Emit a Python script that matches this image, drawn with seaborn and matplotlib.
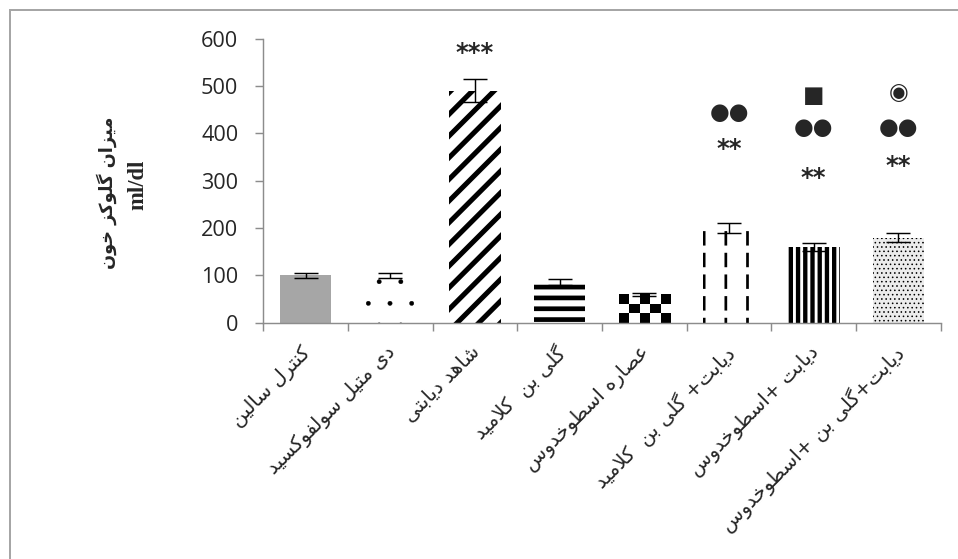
import numpy as np
import pandas as pd
import matplotlib
matplotlib.use('Agg')
import matplotlib.pyplot as plt
import matplotlib.patches as mpatches
import matplotlib.transforms as mtransforms
import seaborn as sns

# data
groups = ['کنترل سالین', 'دی متیل سولفوکسید', 'شاهد دیابتی', 'گلی بن  کلامید',
          'عصاره اسطوخدوس', 'دیابت+ گلی بن  کلامید', 'دیابت +اسطوخدوس',
          'دیابت+گلی بن +اسطوخدوس']
glucose = [100, 100, 490, 86, 60, 200, 160, 180]
glucose_err = [5, 6, 24, 7, 3, 10, 8, 9]

star_idx = [2, 5, 6, 7]
star_txt = ['***', '**', '**', '**']
star_y = [570, 368, 305, 332]
dot_idx = [5, 6, 7]
dot_y = [444, 412, 412]
sym_idx = [6, 7]
sym_txt = ['■', '◉']
sym_y = [480, 486]

y_label = 'میزان گلوکز خون'
y_unit = 'ml/dl'


# matplotlib has no arabic shaping, so pick the presentation forms by hand
# (isolated, final, initial, medial)
FORMS = {
    'ا': ('\uFE8D', '\uFE8E', None, None),
    'ب': ('\uFE8F', '\uFE90', '\uFE91', '\uFE92'),
    'ت': ('\uFE95', '\uFE96', '\uFE97', '\uFE98'),
    'خ': ('\uFEA5', '\uFEA6', '\uFEA7', '\uFEA8'),
    'د': ('\uFEA9', '\uFEAA', None, None),
    'ر': ('\uFEAD', '\uFEAE', None, None),
    'ز': ('\uFEAF', '\uFEB0', None, None),
    'س': ('\uFEB1', '\uFEB2', '\uFEB3', '\uFEB4'),
    'ش': ('\uFEB5', '\uFEB6', '\uFEB7', '\uFEB8'),
    'ص': ('\uFEB9', '\uFEBA', '\uFEBB', '\uFEBC'),
    'ط': ('\uFEC1', '\uFEC2', '\uFEC3', '\uFEC4'),
    'ع': ('\uFEC9', '\uFECA', '\uFECB', '\uFECC'),
    'ف': ('\uFED1', '\uFED2', '\uFED3', '\uFED4'),
    'ل': ('\uFEDD', '\uFEDE', '\uFEDF', '\uFEE0'),
    'م': ('\uFEE1', '\uFEE2', '\uFEE3', '\uFEE4'),
    'ن': ('\uFEE5', '\uFEE6', '\uFEE7', '\uFEE8'),
    'ه': ('\uFEE9', '\uFEEA', '\uFEEB', '\uFEEC'),
    'و': ('\uFEED', '\uFEEE', None, None),
    'ک': ('\uFB8E', '\uFB8F', '\uFB90', '\uFB91'),
    'گ': ('\uFB92', '\uFB93', '\uFB94', '\uFB95'),
    'ی': ('\uFBFC', '\uFBFD', '\uFBFE', '\uFBFF'),
    'لا': ('\uFEFB', '\uFEFC', None, None),
}


def shape(text):
    toks = []
    i = 0
    while i < len(text):
        if text[i:i + 2] == 'لا':
            toks.append('لا')
            i += 2
        else:
            toks.append(text[i])
            i += 1
    out = []
    for k, t in enumerate(toks):
        if t not in FORMS:
            out.append(t)
            continue
        prev = toks[k - 1] if k > 0 else None
        nxt = toks[k + 1] if k + 1 < len(toks) else None
        j_prev = prev in FORMS and FORMS[prev][2] is not None
        j_next = FORMS[t][2] is not None and nxt in FORMS
        f = FORMS[t]
        if j_prev and j_next:
            out.append(f[3])
        elif j_prev:
            out.append(f[1])
        elif j_next:
            out.append(f[2])
        else:
            out.append(f[0])
    return ''.join(reversed(out))


def hatch_width(artist, lw):
    # hatch line width is only read from rcParams when the patch is drawn
    orig = artist.draw

    def draw(renderer):
        with plt.rc_context({'hatch.linewidth': lw}):
            orig(renderer)
    artist.draw = draw
    if hasattr(artist, '_hatch_linewidth'):
        artist._hatch_linewidth = lw


sns.set_style('white')
plt.rcParams['font.family'] = ['Open Sans', 'DejaVu Sans']

df = pd.DataFrame({'group': groups, 'glucose': glucose})

fig = plt.figure(figsize=(958 / 130, 559 / 130), dpi=130)
ax = fig.add_axes([0.2748, 0.4227, 0.7072, 0.5081])

sns.barplot(data=df, x='group', y='glucose', order=groups, color='white',
            errorbar=None, width=0.61, saturation=1, ax=ax, zorder=2)

# fills / hatches per bar
styles = [
    dict(fc='#a6a6a6', hatch=None, hlw=1.0),
    dict(fc='white', hatch='.', hlw=0.2),
    dict(fc='white', hatch='//', hlw=2.8),
    dict(fc='white', hatch='--', hlw=2.6),
    dict(fc='white', hatch=None, hlw=1.0),
    dict(fc='white', hatch='|', hlw=1.5),
    dict(fc='white', hatch='|||', hlw=2.4),
    dict(fc='#ececec', hatch='.....', hlw=0.45),
]
bars = ax.patches[:len(groups)]
for b, st in zip(bars, styles):
    b.set_facecolor(st['fc'])
    b.set_edgecolor('black')
    b.set_linewidth(0)
    b.set_hatch(st['hatch'])
    hatch_width(b, st['hlw'])

# dashed look for the vertical-line bar: white bands over it
b6 = bars[5]
over = mpatches.Rectangle(b6.get_xy(), b6.get_width(), b6.get_height(),
                          facecolor='none', edgecolor='white', lw=0,
                          hatch='-', zorder=2.5)
hatch_width(over, 4.0)
ax.add_patch(over)

# checkerboard bar
b5 = bars[4]
x0, y0 = b5.get_xy()
w, h = b5.get_width(), b5.get_height()
checker = (np.indices((3, 5)).sum(axis=0) % 2 == 0).astype(float)
im = ax.imshow(checker, cmap='gray_r', vmin=0, vmax=1, interpolation='nearest',
               extent=(x0, x0 + w, y0, y0 + h), origin='upper', aspect='auto',
               zorder=2.2)
im.set_clip_path(b5)

ax.errorbar(np.arange(len(groups)), glucose, yerr=glucose_err, fmt='none',
            ecolor='black', elinewidth=0.8, capsize=6.5, capthick=0.8, zorder=5)

# significance marks
for i, t, y in zip(star_idx, star_txt, star_y):
    ax.text(i, y, t, ha='center', va='center', fontsize=13.5, fontweight='bold',
            family=['DejaVu Sans'], zorder=6)
for i, y in zip(dot_idx, dot_y):
    ax.text(i, y, '●●', ha='center', va='center', fontsize=12.5,
            family=['DejaVu Sans'], zorder=6)
for i, t, y in zip(sym_idx, sym_txt, sym_y):
    ax.text(i, y, t, ha='center', va='center', fontsize=12.5,
            family=['DejaVu Sans'], zorder=6)

# axes look
ax.set_xlim(-0.5, len(groups) - 0.5)
ax.set_ylim(0, 600)
ax.set_yticks(range(0, 601, 100))
ax.set_xticks(np.arange(len(groups)))
ax.set_xticks(np.arange(len(groups) + 1) - 0.5, minor=True)
ax.set_xticklabels([shape(g) for g in groups], rotation=45, ha='right',
                   rotation_mode='anchor', fontsize=11, family=['DejaVu Sans'])
ax.tick_params(axis='x', which='major', length=0, pad=7)
ax.tick_params(axis='x', which='minor', length=4.4, width=0.8, color='#8c8c8c',
               direction='out', bottom=True)
ax.tick_params(axis='y', length=4.4, width=0.8, color='#8c8c8c', direction='out',
               pad=9.5, labelsize=12, left=True)
shift = mtransforms.ScaledTranslation(-5 / 130, -7 / 130, fig.dpi_scale_trans)
for lab in ax.get_xticklabels():
    lab.set_transform(lab.get_transform() + shift)
for s in ['top', 'right']:
    ax.spines[s].set_visible(False)
for s in ['left', 'bottom']:
    ax.spines[s].set_color('#8c8c8c')
    ax.spines[s].set_linewidth(0.8)
ax.set_xlabel('')
ax.set_ylabel('')

# y axis title: persian line and unit line
ax.text(-0.231, 0.457, shape(y_label), transform=ax.transAxes, rotation=90,
        ha='center', va='center', fontsize=9.8, fontweight='bold',
        family=['DejaVu Sans'])
ax.text(-0.185, 0.485, y_unit, transform=ax.transAxes, rotation=90,
        ha='center', va='center', fontsize=12.5, fontweight='bold',
        family=['Liberation Serif'])

# outer chart frame (only top and left edges fall inside the picture)
frame = mpatches.Rectangle((9.5 / 958, -0.1), 1.2, 1 - 10 / 559 + 0.1,
                           transform=fig.transFigure, fill=False,
                           edgecolor='#a6a6a6', lw=1.1, zorder=0)
fig.add_artist(frame)

fig.savefig('out.png', dpi=130, facecolor='white')
